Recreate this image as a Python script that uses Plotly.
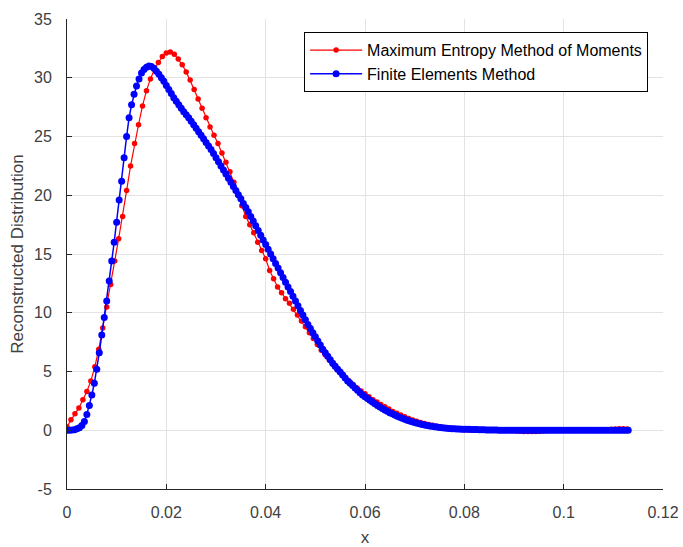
import plotly.graph_objects as go

# ---------------- data ----------------
mem_step = 0.0008   # sample spacing of the Maximum Entropy series
fem_step = 0.0005   # sample spacing of the Finite Elements series

y_mem = [
    0.3, 0.9, 1.4, 1.9, 2.6, 3.3, 4.2, 5.4, 6.9, 8.7,
    10.5, 12.4, 14.4, 16.3, 18.2, 20.4, 22.5, 24.4, 26.0, 27.6,
    28.9, 29.9, 30.7, 31.3, 31.8, 32.1, 32.2, 32.0, 31.6, 31.1,
    30.5, 29.8, 29.0, 28.2, 27.4, 26.6, 25.8, 25.1, 24.4, 23.6,
    22.8, 22.0, 21.1, 20.1, 19.1, 18.2, 17.5, 16.8, 16.0, 15.3,
    14.6, 13.6, 12.9, 12.2, 11.7, 11.2, 10.8, 10.3, 9.8, 9.3,
    8.8, 8.3, 7.8, 7.3, 6.8, 6.4, 6.0, 5.6, 5.2, 4.85,
    4.5, 4.2, 3.9, 3.6, 3.35, 3.1, 2.85, 2.6, 2.4, 2.2,
    2.0, 1.8, 1.6, 1.45, 1.3, 1.15, 1.0, 0.88, 0.77, 0.67,
    0.58, 0.5, 0.42, 0.35, 0.29, 0.23, 0.18, 0.14, 0.1, 0.07,
    0.05, 0.03, 0.02, 0.01, 0.0, 0.0, 0.0, 0.0, 0.0, 0.0,
    0.0, 0.0, -0.02, -0.05, -0.08, -0.1, -0.1, -0.1, -0.1, -0.08,
    -0.05, -0.02, 0.0, 0.0, 0.0, 0.0, 0.0, 0.0, 0.0, 0.0,
    0.0, 0.0, 0.0, 0.0, 0.0, 0.02, 0.05, 0.08, 0.1, 0.12,
    0.12, 0.1,
]

y_fem = [
    0.0, 0.0, 0.02, 0.05, 0.12, 0.22, 0.4, 0.75, 1.35, 2.1,
    3.0, 4.0, 5.2, 6.6, 8.1, 9.6, 11.0, 12.7, 14.4, 16.0,
    17.7, 19.6, 21.2, 23.2, 25.0, 26.6, 27.7, 28.6, 29.3, 29.9,
    30.4, 30.7, 30.9, 31.0, 30.95, 30.8, 30.55, 30.3, 30.0, 29.7,
    29.35, 29.0, 28.65, 28.3, 28.0, 27.7, 27.4, 27.1, 26.85, 26.6,
    26.3, 26.0, 25.7, 25.4, 25.1, 24.8, 24.5, 24.2, 23.9, 23.55,
    23.2, 22.85, 22.5, 22.15, 21.8, 21.45, 21.1, 20.75, 20.4, 20.05,
    19.7, 19.3, 18.95, 18.6, 18.2, 17.8, 17.4, 17.0, 16.6, 16.2,
    15.8, 15.4, 15.0, 14.6, 14.2, 13.8, 13.4, 13.0, 12.6, 12.2,
    11.8, 11.4, 11.0, 10.6, 10.2, 9.8, 9.4, 9.0, 8.65, 8.3,
    7.95, 7.6, 7.25, 6.9, 6.6, 6.3, 6.0, 5.7, 5.45, 5.2,
    4.95, 4.7, 4.45, 4.2, 4.0, 3.8, 3.6, 3.4, 3.2, 3.0,
    2.85, 2.7, 2.55, 2.4, 2.25, 2.1, 1.97, 1.85, 1.73, 1.61,
    1.5, 1.4, 1.3, 1.2, 1.1, 1.02, 0.94, 0.86, 0.79, 0.72,
    0.66, 0.6, 0.55, 0.5, 0.45, 0.41, 0.37, 0.33, 0.3, 0.27,
    0.24, 0.21, 0.19, 0.17, 0.15, 0.13, 0.12, 0.11, 0.1, 0.09,
    0.08, 0.08, 0.08, 0.07, 0.07, 0.06, 0.05, 0.04, 0.04, 0.03,
    0.03, 0.02, 0.02, 0.02, 0.01, 0.01, 0.01, 0.01, 0.0, 0.0,
    0.0, 0.0, 0.0, 0.0, 0.0, 0.0, 0.0, 0.0, 0.0, 0.0,
    0.0, 0.0, 0.0, 0.0, 0.0, 0.0, 0.0, 0.0, 0.0, 0.0,
    0.0, 0.0, 0.0, 0.0, 0.0, 0.0, 0.0, 0.0, 0.0, 0.0,
    0.0, 0.0, 0.0, 0.0, 0.0, 0.0, 0.0, 0.0, 0.0, 0.0,
    0.0, 0.0, 0.0, 0.0, 0.0, 0.0, 0.0,
]

x_mem = [round(i * mem_step, 5) for i in range(len(y_mem))]
x_fem = [round(i * fem_step, 5) for i in range(len(y_fem))]

series_names = ["Maximum Entropy Method of Moments", "Finite Elements Method"]

x_tickvals = [0, 0.02, 0.04, 0.06, 0.08, 0.1, 0.12]
x_ticktext = ["0", "0.02", "0.04", "0.06", "0.08", "0.1", "0.12"]
y_tickvals = [-5, 0, 5, 10, 15, 20, 25, 30, 35]
y_ticktext = ["-5", "0", "5", "10", "15", "20", "25", "30", "35"]

# ---------------- figure ----------------
FONT = "Liberation Sans, Arial, Helvetica, sans-serif"
AX = "#262626"
TXT = "#404040"

fig = go.Figure()
fig.add_trace(go.Scatter(
    x=x_mem, y=y_mem, mode="lines+markers", name=series_names[0],
    line=dict(color="#ff0000", width=1.2),
    marker=dict(color="#ff0000", size=5.5),
))
fig.add_trace(go.Scatter(
    x=x_fem, y=y_fem, mode="lines+markers", name=series_names[1],
    line=dict(color="#0000ff", width=1.5),
    marker=dict(color="#0000ff", size=7),
))

fig.update_layout(
    width=683, height=547,
    margin=dict(l=67, r=20, t=19, b=58, autoexpand=False),
    paper_bgcolor="white", plot_bgcolor="white",
    font=dict(family=FONT, size=16, color=AX),
    showlegend=True,
    legend=dict(
        x=0.975, y=0.972, xanchor="right", yanchor="top",
        bgcolor="white", bordercolor="#000000", borderwidth=1,
        font=dict(size=16, color="#000000"),
        tracegroupgap=0, itemwidth=52,
    ),
)

fig.update_xaxes(
    range=[0, 0.12], tickvals=x_tickvals, ticktext=x_ticktext,
    automargin=False,
    showgrid=True, gridcolor="#e3e3e3", gridwidth=1, zeroline=False,
    showline=True, linecolor=AX, linewidth=1,
    ticks="inside", ticklen=5, tickcolor=AX,
    tickfont=dict(size=16, color=TXT),
    ticklabelstandoff=9,
    title=dict(text="x", font=dict(size=17, color=TXT), standoff=10),
)
fig.update_yaxes(
    range=[-5, 35], tickvals=y_tickvals, ticktext=y_ticktext,
    automargin=False,
    showgrid=True, gridcolor="#e3e3e3", gridwidth=1, zeroline=False,
    showline=True, linecolor=AX, linewidth=1,
    ticks="inside", ticklen=5, tickcolor=AX,
    tickfont=dict(size=16, color=TXT),
    ticklabelstandoff=11,
    title=dict(text="Reconstructed Distribution", font=dict(size=17, color=TXT), standoff=6),
)

fig.write_html("out.html")
